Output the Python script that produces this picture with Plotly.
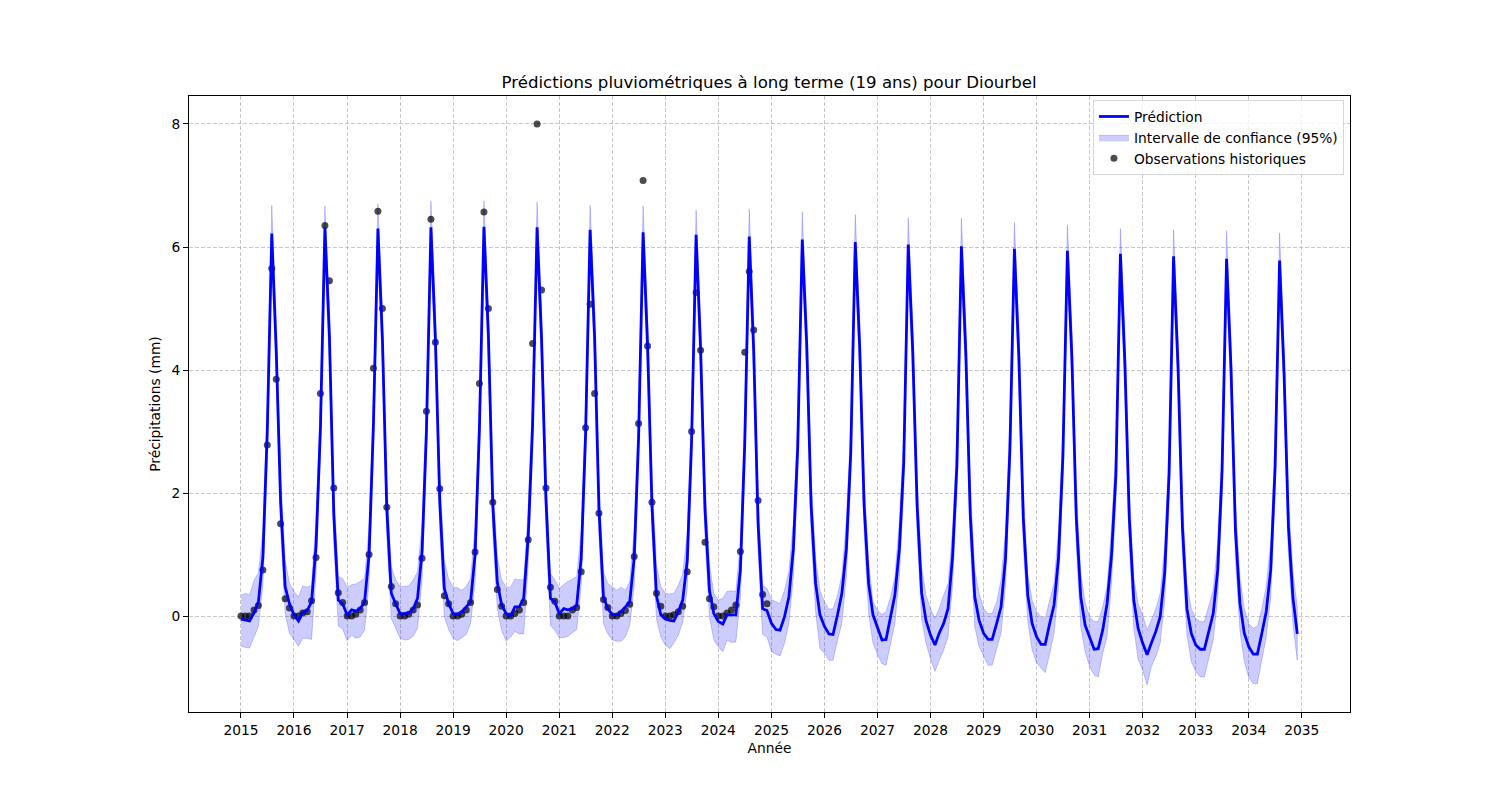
import pandas as pd
import plotly.graph_objects as go

mois_prediction = pd.date_range("2015-01-01", "2034-12-01", freq="MS")
mois_observation = pd.date_range("2015-01-01", "2024-12-01", freq="MS")
annees = [str(a) for a in range(2015, 2036)]

prediction = [
    -.05, -.06, -.08, .05, .23, .96, 3.0, 6.22, 4.3, 1.85, .48, .2,
    .02, -.08, .06, .09, .23, 1.15, 3.05, 6.32, 4.55, 1.65, .26, .2,
    .02, .1, .08, .12, .23, 1.0, 3.1, 6.3, 4.5, 1.75, .37, .2,
    .04, .04, .05, .12, .29, 1.05, 3.0, 6.32, 4.5, 1.85, .45, .2,
    .04, .03, .07, .15, .23, 1.0, 3.05, 6.33, 4.55, 1.8, .55, .18,
    .04, 0, .15, .15, .29, 1.29, 3.1, 6.32, 4.5, 1.9, .29, .23,
    .04, .12, .1, .12, .18, .95, 2.95, 6.28, 4.55, 1.75, .31, .12,
    .02, .02, .07, .15, .23, .95, 2.9, 6.24, 4.4, 1.8, .33, .02,
    -.05, -.07, -.08, .07, .26, .9, 2.85, 6.2, 4.35, 1.75, .42, .04,
    -.09, -.13, .02, .02, .02, .75, 2.8, 6.17, 4.3, 1.5, .12, .09,
    -.12, -.22, -.23, -.01, .31, 1.1, 2.75, 6.12, 4.4, 1.8, .53, .02,
    -.17, -.29, -.3, .02, .37, 1.1, 2.65, 6.08, 4.35, 1.8, .53, .02,
    -.2, -.39, -.38, -.01, .34, 1.1, 2.5, 6.04, 4.3, 1.8, .38, -.07,
    -.31, -.47, -.28, -.12, .12, .96, 2.45, 6.01, 4.25, 1.65, .31, -.07,
    -.28, -.38, -.38, -.12, .15, .95, 2.7, 5.97, 4.2, 1.6, .34, -.12,
    -.34, -.46, -.46, -.12, .18, .95, 2.6, 5.94, 4.2, 1.6, .31, -.15,
    -.36, -.54, -.53, -.23, .2, 1.0, 2.3, 5.89, 4.1, 1.6, .26, -.2,
    -.44, -.63, -.44, -.25, -.01, .7, 2.3, 5.85, 4.05, 1.45, .12, -.28,
    -.47, -.54, -.54, -.23, .04, .75, 2.35, 5.81, 4.0, 1.4, .21, -.28,
    -.5, -.62, -.62, -.28, .07, .75, 2.4, 5.78, 3.95, 1.45, .3, -.29,
]

borne_haute = [
    .34, .37, .34, .58, .7, 1.4, 3.45, 6.68, 4.75, 2.3, .91, .53,
    .4, .31, .49, .47, .5, 1.6, 3.5, 6.67, 5.0, 2.1, .64, .61,
    .47, .51, .52, .56, .62, 1.45, 3.55, 6.7, 4.95, 2.2, .8, .59,
    .48, .49, .49, .59, .72, 1.5, 3.45, 6.75, 4.95, 2.3, .9, .6,
    .47, .46, .42, .48, .61, 1.45, 3.5, 6.75, 5.0, 2.25, .96, .59,
    .47, .47, .6, .59, .59, 1.75, 3.55, 6.73, 4.95, 2.35, .69, .59,
    .45, .51, .56, .6, .64, 1.4, 3.4, 6.68, 5.0, 2.2, .72, .53,
    .47, .42, .47, .42, .56, 1.4, 3.35, 6.67, 4.85, 2.25, .83, .48,
    .37, .36, .37, .5, .69, 1.35, 3.3, 6.6, 4.8, 2.2, .85, .37,
    .26, .29, .4, .41, .4, 1.2, 3.25, 6.62, 4.75, 1.95, .5, .45,
    .27, .23, .2, .42, .72, 1.55, 3.2, 6.57, 4.85, 2.25, .94, .42,
    .23, .11, .12, .34, .67, 1.55, 3.1, 6.53, 4.8, 2.25, .88, .23,
    .1, .02, .07, .31, .64, 1.55, 2.95, 6.48, 4.75, 2.25, .8, .34,
    .12, -.04, .12, .34, .53, 1.4, 2.9, 6.47, 4.7, 2.1, .75, .37,
    .12, .04, .04, .23, .59, 1.4, 3.15, 6.4, 4.65, 2.05, .67, .26,
    .07, -.01, -.04, .26, .53, 1.4, 3.05, 6.36, 4.65, 2.05, .69, .22,
    -.01, -.09, -.09, .15, .48, 1.45, 2.75, 6.3, 4.55, 2.05, .62, .2,
    .02, -.23, -.07, .12, .37, 1.15, 2.75, 6.28, 4.5, 1.9, .53, .12,
    -.04, -.09, -.09, .15, .42, 1.2, 2.8, 6.26, 4.45, 1.85, .62, .12,
    -.12, -.2, -.17, .12, .48, 1.2, 2.85, 6.23, 4.4, 1.9, .72, .15,
]

borne_basse = [
    -.49, -.51, -.52, -.34, -.17, .5, 2.55, 5.77, 3.85, 1.4, .04, -.28,
    -.39, -.49, -.36, -.36, -.38, .7, 2.6, 5.87, 4.1, 1.2, -.16, -.21,
    -.4, -.31, -.36, -.34, -.23, .55, 2.65, 5.85, 4.05, 1.3, -.04, -.2,
    -.36, -.39, -.38, -.33, -.2, .6, 2.55, 5.87, 4.05, 1.4, 0, -.22,
    -.36, -.4, -.36, -.3, -.12, .55, 2.6, 5.88, 4.1, 1.35, .12, -.23,
    -.41, -.34, -.25, -.29, -.29, .85, 2.65, 5.87, 4.05, 1.45, -.15, -.23,
    -.35, -.35, -.33, -.27, -.22, .5, 2.5, 5.83, 4.1, 1.3, -.12, -.29,
    -.39, -.41, -.41, -.34, -.15, .5, 2.45, 5.79, 3.95, 1.35, -.04, -.34,
    -.47, -.53, -.44, -.31, -.1, .45, 2.4, 5.75, 3.9, 1.3, -.01, -.39,
    -.5, -.58, -.39, -.43, -.42, .3, 2.35, 5.72, 3.85, 1.05, -.3, -.34,
    -.58, -.62, -.65, -.44, -.12, .65, 2.3, 5.67, 3.95, 1.35, .07, -.53,
    -.6, -.72, -.72, -.39, -.12, .65, 2.2, 5.63, 3.9, 1.35, .04, -.44,
    -.63, -.77, -.8, -.44, -.12, .65, 2.05, 5.6, 3.85, 1.35, -.05, -.44,
    -.69, -.9, -.72, -.55, -.34, .5, 2.0, 5.56, 3.8, 1.2, -.17, -.5,
    -.66, -.8, -.8, -.53, -.28, .5, 2.25, 5.52, 3.75, 1.15, -.09, -.55,
    -.76, -.85, -.92, -.61, -.28, .5, 2.15, 5.49, 3.75, 1.15, -.17, -.58,
    -.82, -.96, -.99, -.61, -.34, .55, 1.85, 5.44, 3.65, 1.15, -.2, -.7,
    -.88, -1.12, -.82, -.66, -.44, .25, 1.85, 5.4, 3.6, 1.0, -.31, -.74,
    -.9, -.99, -.99, -.69, -.39, .3, 1.9, 5.36, 3.55, .95, -.23, -.74,
    -1.0, -1.1, -1.1, -.71, -.34, .3, 1.95, 5.33, 3.5, 1.0, -.13, -.72,
]

observations = [
    0, 0, 0, .1, .17, .75, 2.78, 5.65, 3.85, 1.5, .28, .13,
    0, 0, .05, .07, .25, .95, 3.62, 6.35, 5.45, 2.08, .38, .22,
    0, 0, .03, .1, .22, 1.0, 4.03, 6.58, 5.0, 1.77, .48, .2,
    0, 0, .03, .1, .18, .94, 3.33, 6.45, 4.45, 2.07, .33, .2,
    0, 0, .03, .1, .22, 1.04, 3.78, 6.57, 5.0, 1.85, .43, .16,
    0, 0, .04, .1, .22, 1.24, 4.43, 8.0, 5.3, 2.08, .47, .24,
    0, 0, 0, .1, .14, .72, 3.06, 5.07, 3.62, 1.67, .27, .14,
    0, 0, .04, .09, .19, .97, 3.13, 7.08, 4.39, 1.85, .37, .16,
    0, 0, .02, .07, .16, .72, 3.0, 5.26, 4.32, 1.2, .28, .15,
    0, 0, .05, .1, .18, 1.05, 4.29, 5.6, 4.65, 1.88, .35, .2,
]

POLICE = "DejaVu Sans"

fig = go.Figure()
fig.add_trace(go.Scatter(
    x=list(mois_prediction) + list(mois_prediction[::-1]),
    y=borne_haute + borne_basse[::-1],
    fill="toself", fillcolor="rgba(0,0,255,0.2)",
    line=dict(color="rgba(0,0,255,0.2)", width=1),
    mode="lines", name="Intervalle de confiance (95%)", legendrank=2,
    hoverinfo="skip",
))
fig.add_trace(go.Scatter(
    x=mois_observation, y=observations, mode="markers",
    marker=dict(color="rgba(0,0,0,0.7)", size=7, line=dict(width=0)),
    name="Observations historiques", legendrank=3,
))
fig.add_trace(go.Scatter(
    x=mois_prediction, y=prediction, mode="lines",
    line=dict(color="#0000ff", width=2.78),
    name="Prédiction", legendrank=1,
))

grille = dict(showgrid=True, gridcolor="rgba(176,176,176,0.7)", gridwidth=1,
              griddash="4px,2px", zeroline=False, showline=True, mirror=True,
              linecolor="black", linewidth=1, ticks="outside", ticklen=5,
              tickwidth=1, tickcolor="black",
              tickfont=dict(family=POLICE, size=13.8, color="black"))

fig.update_layout(
    width=1492, height=792, autosize=False,
    margin=dict(l=181, r=150, t=88, b=88, pad=0),
    paper_bgcolor="white", plot_bgcolor="white",
    font=dict(family=POLICE, size=13.8, color="black"),
    title=dict(text="Prédictions pluviométriques à long terme (19 ans) pour Diourbel",
               x=761 / 1492, xanchor="center", xref="container",
               y=1 - 74 / 792, yanchor="middle",
               font=dict(family=POLICE, size=16.6, color="black")),
    xaxis=dict(grille, type="date", range=["2014-01-08", "2035-11-29"],
               tickmode="array", tickvals=[a + "-01-01" for a in annees], ticktext=annees,
               title=dict(text="Année", standoff=6, font=dict(family=POLICE, size=13.8))),
    yaxis=dict(grille, range=[-1.56, 8.455], tickmode="array", tickvals=[0, 2, 4, 6, 8],
               title=dict(text="Précipitations (mm)", standoff=7, font=dict(family=POLICE, size=13.8))),
    legend=dict(x=0.9948, xref="paper", xanchor="right",
                y=0.9935, yref="paper", yanchor="top",
                bgcolor="rgba(255,255,255,0.8)", bordercolor="rgba(204,204,204,0.8)",
                borderwidth=1, font=dict(family=POLICE, size=13.8, color="black"),
                traceorder="normal", tracegroupgap=0),
    showlegend=True,
)

fig.write_html("out.html")
